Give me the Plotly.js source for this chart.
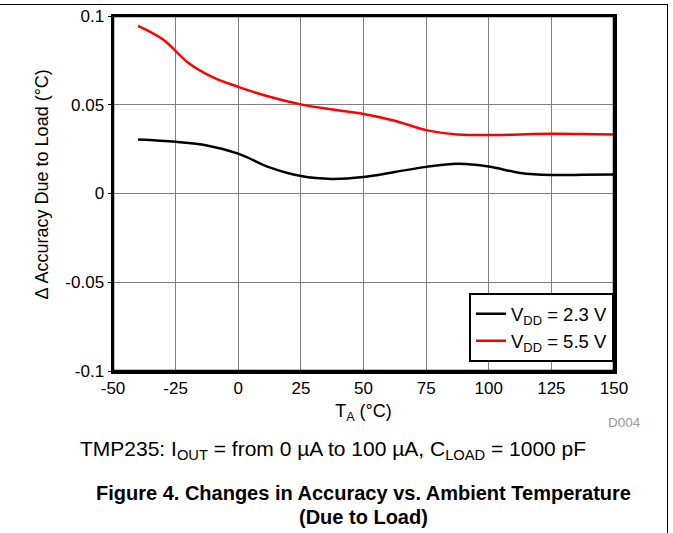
<!DOCTYPE html>
<html>
<head>
<meta charset="utf-8">
<script src="https://cdn.plot.ly/plotly-3.0.1.min.js"></script>
<style>
html,body{margin:0;padding:0;background:#fff;}
#wrap{position:relative;width:673px;height:533px;overflow:hidden;}
#chart{position:absolute;left:0;top:0;width:673px;height:533px;z-index:1;}
#frame{position:absolute;left:0;top:4px;width:667px;height:540px;border-top:1.5px solid #000;border-right:1.5px solid #000;pointer-events:none;z-index:5;}
</style>
</head>
<body>
<div id="wrap"><div id="chart"></div><div id="frame"></div></div>
<script>
var tempLow = [-40, -25, -12.5, 0, 12.5, 25, 37.5, 50, 62.5, 75, 87.5, 100, 112.5, 125, 137.5, 150];
var vdd23 = [0.0304, 0.0291, 0.0271, 0.0225, 0.0147, 0.0098, 0.0082, 0.0093, 0.0121, 0.0150, 0.0167, 0.0152, 0.0116, 0.0104, 0.0106, 0.0107];
var tempHigh = [-40, -30, -20, -10, 0, 12.5, 25, 37.5, 50, 62.5, 75, 87.5, 100, 112.5, 125, 137.5, 150];
var vdd55 = [0.0945, 0.0868, 0.0737, 0.0654, 0.0601, 0.0545, 0.0502, 0.0473, 0.0448, 0.0410, 0.0357, 0.0333, 0.0329, 0.0333, 0.0336, 0.0335, 0.0333];
var xTicks = [-50, -25, 0, 25, 50, 75, 100, 125, 150];
var yTicks = [-0.1, -0.05, 0, 0.05, 0.1];
var yTickText = ['-0.1', '-0.05', '0', '0.05', '0.1'];

var font = 'Arial, "Liberation Sans", sans-serif';

var traces = [
  {x: tempLow, y: vdd23, mode: 'lines', line: {color: '#000000', width: 2.5, shape: 'spline', smoothing: 1}, name: 'V<sub>DD</sub> = 2.3 V'},
  {x: tempHigh, y: vdd55, mode: 'lines', line: {color: '#ff0000', width: 2.5, shape: 'spline', smoothing: 1}, name: 'V<sub>DD</sub> = 5.5 V'}
];

var layout = {
  width: 673, height: 533,
  margin: {l: 113, r: 59, t: 16, b: 162},
  paper_bgcolor: '#fff', plot_bgcolor: '#fff',
  font: {family: font, size: 17, color: '#000'},
  showlegend: true,
  legend: {x: 1.0, y: 0.025, xanchor: 'right', yanchor: 'bottom', bordercolor: '#000', borderwidth: 2,
           bgcolor: '#fff', font: {family: font, size: 18.5, color: '#000'}, tracegroupgap: 0, itemwidth: 30},
  xaxis: {range: [-50, 150], tickvals: xTicks, ticktext: xTicks.map(String), showgrid: true, gridcolor: '#7f7f7f', gridwidth: 1,
          showline: true, linecolor: '#000', linewidth: 2.5, mirror: true, zeroline: false,
          ticks: '', tickfont: {family: font, size: 17},
          title: {text: 'T<sub>A</sub> (°C)', font: {family: font, size: 18}, standoff: 8}},
  yaxis: {range: [-0.1, 0.1], tickvals: yTicks, ticktext: yTickText, showgrid: true, gridcolor: '#7f7f7f', gridwidth: 1,
          showline: true, linecolor: '#000', linewidth: 2.5, mirror: true, zeroline: false,
          ticks: 'outside', ticklen: 3, tickcolor: '#000', tickfont: {family: font, size: 17}},
  shapes: [
    {type: 'rect', xref: 'paper', yref: 'paper', x0: 0, x1: 1, y0: 0, y1: 1, line: {color: '#000', width: 2.5}, fillcolor: 'rgba(0,0,0,0)', layer: 'above'}
  ],
  annotations: [
    {xref: 'paper', yref: 'paper', x: -0.142, y: 0.525, xanchor: 'center', yanchor: 'middle', showarrow: false, textangle: -90,
     text: 'Δ Accuracy Due to Load (°C)', font: {family: font, size: 18}},
    {xref: 'paper', yref: 'paper', x: 1.058, y: -0.144, xanchor: 'right', yanchor: 'middle', showarrow: false,
     text: 'D004', font: {family: font, size: 13.5, color: '#999999'}},
    {xref: 'paper', yref: 'paper', x: -0.07, y: -0.222, xanchor: 'left', yanchor: 'middle', showarrow: false,
     text: 'TMP235: I<sub>OUT</sub> = from 0 µA to 100 µA, C<sub>LOAD</sub> = 1000 pF', font: {family: font, size: 21}},
    {xref: 'paper', yref: 'paper', x: 0.5, y: -0.345, xanchor: 'center', yanchor: 'middle', showarrow: false,
     text: '<b>Figure 4. Changes in Accuracy vs. Ambient Temperature</b>', font: {family: font, size: 20}},
    {xref: 'paper', yref: 'paper', x: 0.5, y: -0.412, xanchor: 'center', yanchor: 'middle', showarrow: false,
     text: '<b>(Due to Load)</b>', font: {family: font, size: 20}}
  ]
};

Plotly.newPlot('chart', traces, layout, {displayModeBar: false, staticPlot: true});
</script>
</body>
</html>
